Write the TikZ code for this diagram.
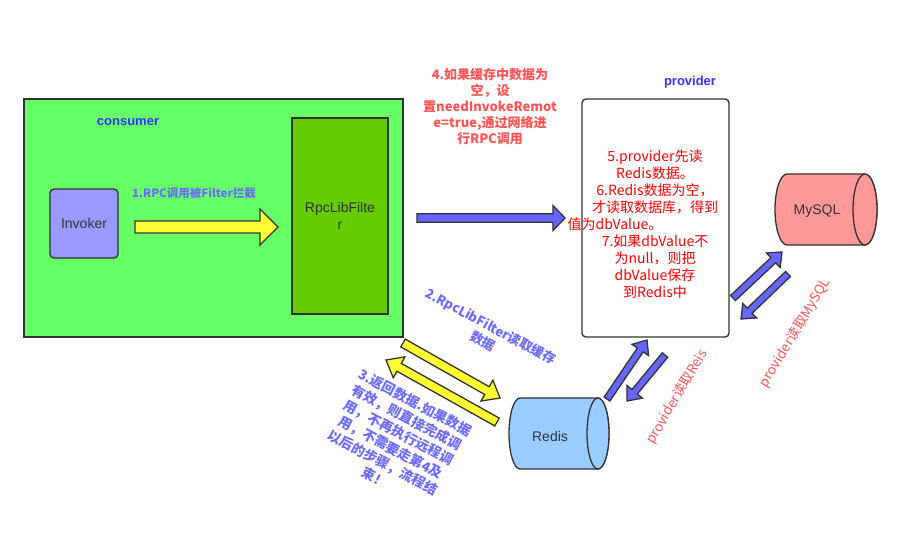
\documentclass[tikz,border=0pt]{standalone}
\usepackage{fontspec}
\setmainfont{Liberation Sans}
\newfontfamily\cjk{Noto Sans CJK SC}
\usetikzlibrary{calc}
\definecolor{consumerfill}{HTML}{66FF66}
\definecolor{filterfill}{HTML}{66CC00}
\definecolor{invokerfill}{HTML}{9999FF}
\definecolor{yellowfill}{HTML}{FFFF33}
\definecolor{bluefill}{HTML}{6666FF}
\definecolor{redisfill}{HTML}{99CCFF}
\definecolor{mysqlfill}{HTML}{FF9999}
\definecolor{edge}{HTML}{333333}
\definecolor{titleblue}{HTML}{3333FF}
\definecolor{labelblue}{HTML}{6B6BFF}
\definecolor{labelred}{HTML}{FF5555}
\definecolor{textred}{HTML}{FF0000}
\newcommand{\fatarr}[6]{%
  \path ($(#2)!#5!(#1)$) coordinate (faH);
  \draw[#6] ($(#1)!#3!90:(#2)$) -- ($(faH)!#3!-90:(#1)$) -- ($(faH)!#4!-90:(#1)$) -- (#2)
    -- ($(faH)!#4!90:(#1)$) -- ($(faH)!#3!90:(#1)$) -- ($(#1)!#3!-90:(#2)$) -- cycle;}
\begin{document}
\begin{tikzpicture}[x=1pt,y=-1pt,
  box/.style={draw=edge, line width=1.4pt, inner sep=0pt},
  cyl/.style={draw=edge, line width=1.3pt},
  fatyellow/.style={draw=edge, line width=1.3pt, fill=yellowfill, line join=miter},
  fatblue/.style={draw=edge, line width=1.3pt, fill=bluefill, line join=miter},
  lat/.style={font=\fontsize{14}{17}\selectfont, text=edge, align=center},
  title/.style={font=\bfseries\fontsize{13}{16}\selectfont, text=titleblue},
  lbl/.style={inner sep=1pt, align=center}]
\useasboundingbox (0,0) rectangle (901,553);
\fill[white] (0,0) rectangle (901,553);

% consumer
\node[box, fill=consumerfill, minimum width=379pt, minimum height=238pt] (consumer) at (213.5,218) {};
\node[title] (consumerlabel) at (128,122) {consumer};
\node[box, fill=filterfill, minimum width=96pt, minimum height=196pt, lat] (filter) at (340,216) {RpcLibFilte\\r};
\node[box, fill=invokerfill, rounded corners=4pt, minimum width=68pt, minimum height=69pt, lat] (invoker) at (84,223.5) {Invoker};

% provider
\node[box, fill=white, rounded corners=4pt, minimum width=147pt, minimum height=238pt] (provider) at (655.5,218) {};
\node[title] (providerlabel) at (690,82) {provider};
\node[lbl, text=textred, font=\cjk\fontsize{14}{17}\selectfont] (ptext) at (655,224.5)
  {5.provider先读\\Redis数据。\\6.Redis数据为空，\\才读取数据库，得到\\\hspace*{-80pt}值为dbValue。\\7.如果dbValue不\\为null，则把\\dbValue保存\\到Redis中};

% Redis cylinder
\draw[cyl, fill=redisfill] (598,398) -- (520,398) arc[start angle=90, end angle=270, x radius=11pt, y radius=35.5pt]
  -- (598,469) arc[start angle=-90, end angle=90, x radius=11pt, y radius=35.5pt] -- cycle;
\draw[cyl, fill=redisfill] (598,433.5) ellipse[x radius=11pt, y radius=35.5pt];
\node[lat] (redis) at (550,436) {Redis};

% MySQL cylinder
\draw[cyl, fill=mysqlfill] (865,174) -- (787,174) arc[start angle=90, end angle=270, x radius=12pt, y radius=35.5pt]
  -- (865,245) arc[start angle=-90, end angle=90, x radius=12pt, y radius=35.5pt] -- cycle;
\draw[cyl, fill=mysqlfill] (865,209.5) ellipse[x radius=12pt, y radius=35.5pt];
\node[lat] (mysql) at (817,211) {MySQL};

% arrows
\coordinate (y1s) at (135,227); \coordinate (y1e) at (278,227);
\fatarr{y1s}{y1e}{6pt}{18pt}{18pt}{fatyellow}
\coordinate (b1s) at (417,218); \coordinate (b1e) at (565,218);
\fatarr{b1s}{b1e}{4.2pt}{12.5pt}{12pt}{fatblue}
\coordinate (y2s) at (403,343); \coordinate (y2e) at (500,398);
\fatarr{y2s}{y2e}{4.5pt}{12pt}{15pt}{fatyellow}
\coordinate (y3s) at (497,422); \coordinate (y3e) at (386,360);
\fatarr{y3s}{y3e}{4.5pt}{12pt}{15pt}{fatyellow}
\coordinate (b2s) at (607,399); \coordinate (b2e) at (647,340);
\fatarr{b2s}{b2e}{3.5pt}{10pt}{12pt}{fatblue}
\coordinate (b3s) at (665,355); \coordinate (b3e) at (627,401);
\fatarr{b3s}{b3e}{3.5pt}{10pt}{12pt}{fatblue}
\coordinate (b4s) at (733,298); \coordinate (b4e) at (782,252);
\fatarr{b4s}{b4e}{3.5pt}{10pt}{12pt}{fatblue}
\coordinate (b5s) at (788,274); \coordinate (b5e) at (741,319);
\fatarr{b5s}{b5e}{3.5pt}{10pt}{12pt}{fatblue}

% labels
\node[lbl, text=labelblue, font=\cjk\bfseries\fontsize{11.5}{14}\selectfont] (l1) at (194,193) {1.RPC调用被Filter拦截};
\node[lbl, text=labelred, font=\cjk\bfseries\fontsize{13}{16}\selectfont] (l4) at (490,107)
  {4.如果缓存中数据为\\空，设\\置needInvokeRemot\\e=true,通过网络进\\行RPC调用};
\node[lbl, text=labelblue, font=\cjk\bfseries\fontsize{13}{17}\selectfont, rotate=-28] (l2) at (487,334)
  {2.RpcLibFilter读取缓存\\数据};
\node[lbl, text=labelblue, font=\cjk\bfseries\fontsize{13.5}{17}\selectfont, rotate=-28] (l3) at (395,440)
  {3.返回数据.如果数据\\有效，则直接完成调\\用，不再执行远程调\\用，不需要走第4及\\以后的步骤，流程结\\束！};
\node[lbl, text=labelred, font=\cjk\fontsize{13.5}{16}\selectfont, rotate=59] (l5) at (677,397) {provider读取Reis};
\node[lbl, text=labelred, font=\cjk\fontsize{13.5}{16}\selectfont, rotate=59] (l6) at (795,333) {provider读取MySQL};
\end{tikzpicture}
\end{document}
